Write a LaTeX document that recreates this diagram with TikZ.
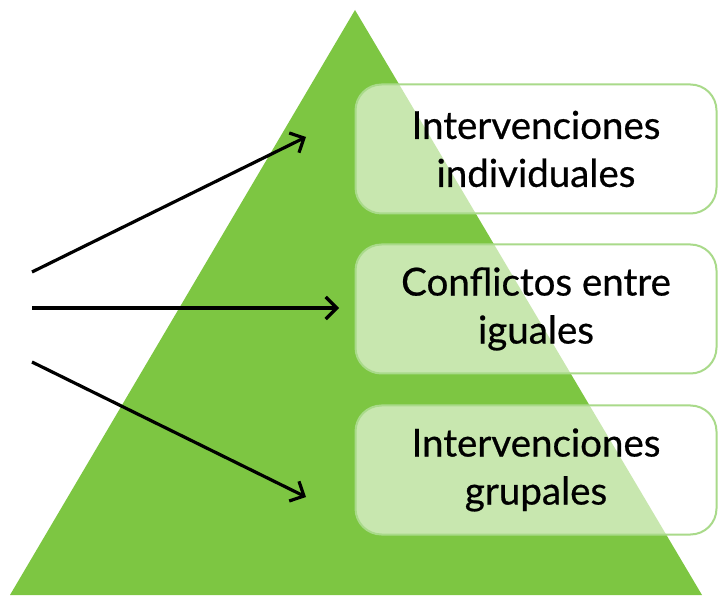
\documentclass[tikz,border=0pt]{standalone}
\usepackage{fontspec}
\setmainfont{Lato}[FakeBold=0.6]
\usetikzlibrary{arrows.meta}
\definecolor{pyrgreen}{HTML}{7DC642}
\definecolor{boxborder}{HTML}{A9DA8A}
\tikzset{
  lbox/.style={draw=boxborder, line width=2pt, fill=white, fill opacity=0.58, text opacity=1,
    rounded corners=26pt, minimum width=361pt, minimum height=129pt, align=center,
    font=\fontsize{38.5}{48}\selectfont, text=black, inner sep=0pt},
  arr/.style={line width=3.2pt, -{Straight Barb[length=11pt, width=22pt, line width=3.2pt]}}
}
\begin{document}
\begin{tikzpicture}[x=1pt, y=1pt]
\useasboundingbox (0,0) rectangle (718,595);
\fill[white] (0,0) rectangle (718,595);
\coordinate (apex) at (355,585);
\coordinate (bl) at (10,0);
\coordinate (br) at (702,0);
\fill[pyrgreen] (apex) -- (br) -- (bl) -- cycle;
\node[lbox] (b1) at (536,446) {Intervenciones\\individuales};
\node[lbox] (b2) at (536,286) {Conflictos entre\\iguales};
\node[lbox] (b3) at (536,125) {Intervenciones\\grupales};
\coordinate (s1) at (32,323);
\coordinate (s2) at (32,287);
\coordinate (s3) at (32,233);
\coordinate (e1) at (306,458);
\coordinate (e2) at (339,287);
\coordinate (e3) at (306,98);
\draw[arr] (s1) -- (e1);
\draw[arr] (s2) -- (e2);
\draw[arr] (s3) -- (e3);
\end{tikzpicture}
\end{document}
